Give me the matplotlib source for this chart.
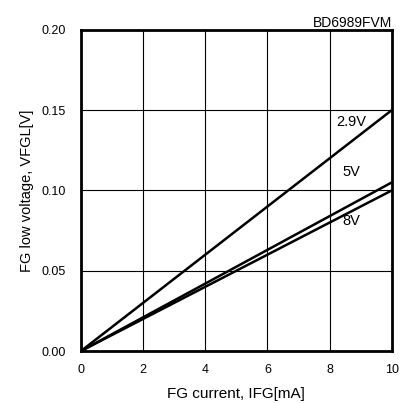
import numpy as np
import matplotlib
matplotlib.use("Agg")
import matplotlib.pyplot as plt

plt.rcParams['font.family'] = ['Liberation Sans', 'DejaVu Sans']

# === Data ===
current = [0, 10]                 # IFG [mA]
v_29 = [0, 0.150]                 # VFGL at VCC=2.9V
v_5 = [0, 0.105]                  # VFGL at VCC=5V
v_8 = [0, 0.100]                  # VFGL at VCC=8V
labels = ["2.9V", "5V", "8V"]
label_pos = [(8.7, 0.1425), (8.7, 0.1115), (8.7, 0.081)]

fig = plt.figure(figsize=(4.09, 4.03), dpi=100)
ax = fig.add_axes([0.198, 0.129, 0.76, 0.797])

for v in (v_29, v_5, v_8):
    ax.plot(current, v, color="black", lw=1.8, solid_capstyle="butt")

for lab, (x, y) in zip(labels, label_pos):
    ax.text(x, y, lab, fontsize=10.5, ha="center", va="center")

ax.set_xlim(0, 10)
ax.set_ylim(0, 0.20)
ax.set_xticks(np.arange(0, 11, 2))
ax.set_yticks(np.arange(0, 0.201, 0.05))
ax.set_yticklabels(["0.00", "0.05", "0.10", "0.15", "0.20"])
ax.grid(True, color="black", lw=0.8)
ax.tick_params(length=0, labelsize=9)
ax.tick_params(axis="y", pad=11)
ax.tick_params(axis="x", pad=9)
for s in ax.spines.values():
    s.set_linewidth(2)

ax.set_xlabel("FG current, IFG[mA]", fontsize=11, labelpad=8)
ax.set_ylabel("FG low voltage, VFGL[V]", fontsize=10.5, labelpad=5)
ax.set_title("BD6989FVM", fontsize=10, loc="right", pad=2)

plt.savefig("out.png", dpi=100)
plt.close()
